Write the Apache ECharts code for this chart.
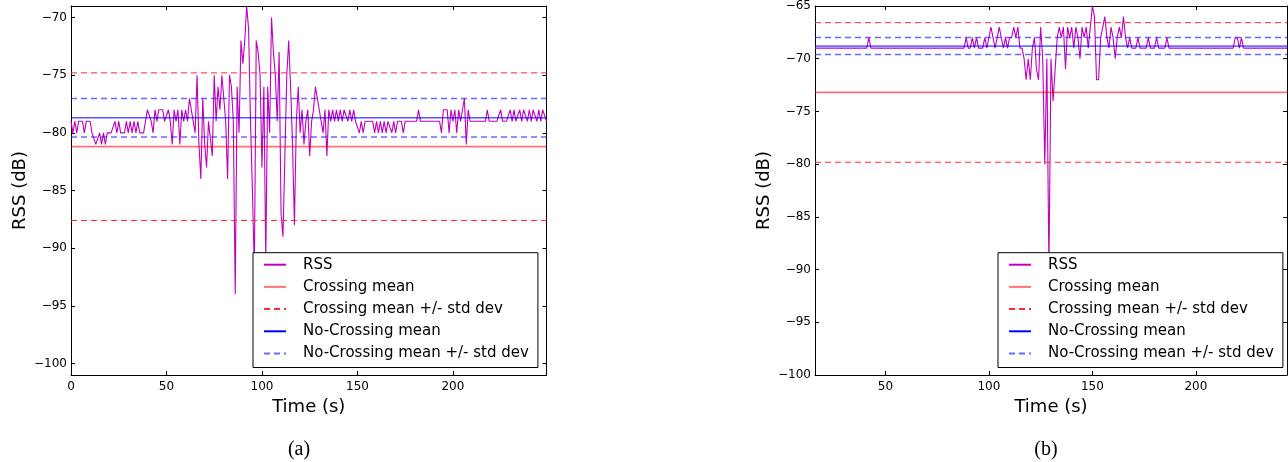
<!DOCTYPE html>
<html lang="en">
<head>
<meta charset="UTF-8">
<title>RSS crossing / no-crossing</title>
<style>html,body{margin:0;padding:0;background:#fff;}</style>
</head>
<body>
<div id="container" style="width:1288px;height:462px;"></div>
<script src="https://cdn.jsdelivr.net/npm/echarts@6/dist/echarts.min.js"></script>
<script>
// (a) RSS samples, one per second from t = 0
var leftStart = 0;
var leftRss = [
    -79,-80,-79,-80,-79,-79,-79,-80,-79,-79,
    -79,-80,-80,-81,-81,-80,-81,-80,-81,-80,
    -80,-80,-80,-79,-80,-79,-80,-80,-80,-79,
    -80,-79,-80,-79,-80,-79,-80,-80,-80,-80,
    -78,-78,-79,-80,-78,-79,-78,-78,-78,-79,
    -79,-78,-79,-81,-78,-79,-78,-81,-78,-79,
    -78,-79,-77,-78,-79,-80,-75,-81,-84,-77,
    -81,-83,-79,-79,-82,-75,-79,-76,-78,-75,
    -77,-79,-84,-75,-76,-79,-94,-76,-80,-72,
    -74,-72,-69,-71,-79,-85,-92,-72,-73,-75,
    -83,-76,-91,-76,-80,-70,-73,-75,-79,-73,
    -87,-89,-82,-75,-72,-76,-81,-88,-79,-76,
    -80,-78,-81,-79,-78,-82,-79,-78,-76,-77,
    -78,-79,-80,-78,-82,-78,-79,-78,-79,-78,
    -79,-78,-79,-78,-78,-79,-78,-79,-78,-79,
    -79,-80,-79,-80,-79,-79,-79,-79,-79,-80,
    -79,-80,-79,-80,-79,-80,-79,-79,-80,-79,
    -80,-79,-79,-79,-80,-79,-79,-79,-79,-79,
    -79,-79,-78,-79,-79,-79,-79,-79,-79,-79,
    -79,-79,-79,-79,-80,-78,-78,-78,-80,-78,
    -79,-78,-80,-78,-79,-78,-77,-81,-78,-79,
    -79,-79,-79,-79,-79,-79,-79,-79,-78,-79,
    -79,-79,-79,-79,-79,-78,-79,-79,-79,-79,
    -78,-79,-78,-79,-79,-78,-79,-78,-78,-79,
    -78,-79,-78,-78,-79,-78,-79,-78,-78,-79
];
// (b) RSS samples, one per second from t = 16
var rightStart = 16;
var rightRss = [
    -69,-69,-69,-69,-69,-69,-69,-69,-69,-69,
    -69,-69,-69,-69,-69,-69,-69,-69,-69,-69,
    -69,-69,-69,-69,-69,-69,-68,-69,-69,-69,
    -69,-69,-69,-69,-69,-69,-69,-69,-69,-69,
    -69,-69,-69,-69,-69,-69,-69,-69,-69,-69,
    -69,-69,-69,-69,-69,-69,-69,-69,-69,-69,
    -69,-69,-69,-69,-69,-69,-69,-69,-69,-69,
    -69,-69,-69,-68,-69,-69,-68,-69,-68,-69,
    -69,-69,-68,-69,-68,-67,-68,-69,-68,-67,
    -68,-69,-68,-69,-68,-68,-67,-68,-67,-69,
    -69,-70,-72,-70,-72,-69,-68,-71,-72,-67,
    -70,-80,-70,-90,-70,-74,-71,-68,-67,-68,
    -67,-71,-67,-68,-67,-69,-67,-68,-70,-67,
    -68,-67,-69,-67,-65,-66,-72,-72,-68,-67,
    -66,-68,-69,-67,-68,-70,-68,-67,-68,-66,
    -68,-69,-68,-69,-69,-69,-68,-69,-69,-69,
    -69,-68,-69,-69,-69,-68,-69,-69,-69,-69,
    -68,-69,-69,-69,-69,-69,-69,-69,-69,-69,
    -69,-69,-69,-69,-69,-69,-69,-69,-69,-69,
    -69,-69,-69,-69,-69,-69,-69,-69,-69,-69,
    -69,-69,-69,-68,-68,-69,-68,-69,-69,-69,
    -69,-69,-69,-69,-69,-69,-69,-69,-69,-69,
    -69,-69,-69,-69,-69,-69,-69,-69,-69
];

// [mean, std dev]
var leftCross = [-81.2, 6.4];
var leftNoCross = [-78.7, 1.67];
var rightCross = [-73.2, 6.62];
var rightNoCross = [-68.8, 0.81];

var leftXRange = [0, 249];
var leftYRange = [-101, -69];
var rightXRange = [16, 244];
var rightYRange = [-100, -65];
var leftXTicks = [0, 50, 100, 150, 200];
var leftYTicks = [-100, -95, -90, -85, -80, -75, -70];
var rightXTicks = [50, 100, 150, 200];
var rightYTicks = [-100, -95, -90, -85, -80, -75, -70, -65];

var legendNames = ['RSS', 'Crossing mean', 'Crossing mean +/- std dev', 'No-Crossing mean', 'No-Crossing mean +/- std dev'];

var FONT = "'DejaVu Sans', Verdana, sans-serif";

function fmt(v) {
    return String(v).replace('-', '\u2212');
}

function xAxes(grid, range, ticks) {
    var base = {
        type: 'value', gridIndex: grid, min: range[0], max: range[1],
        axisLine: {show: true, onZero: false, lineStyle: {color: '#000', width: 1}},
        axisTick: {show: true, inside: true, length: 4, customValues: ticks, lineStyle: {color: '#000'}},
        splitLine: {show: false}
    };
    var bottom = echarts.util.merge({
        position: 'bottom',
        axisLabel: {customValues: ticks, formatter: fmt, color: '#000', fontSize: 12, fontFamily: FONT, margin: 6},
        name: 'Time (s)', nameLocation: 'middle', nameGap: 20,
        nameTextStyle: {color: '#000', fontSize: 18, fontFamily: FONT}
    }, base, false);
    var top = echarts.util.merge({position: 'top', axisLabel: {show: false}}, base, false);
    return [bottom, top];
}

function yAxes(grid, range, ticks) {
    var base = {
        type: 'value', gridIndex: grid, min: range[0], max: range[1],
        axisLine: {show: true, onZero: false, lineStyle: {color: '#000', width: 1}},
        axisTick: {show: true, inside: true, length: 4, customValues: ticks, lineStyle: {color: '#000'}},
        splitLine: {show: false}
    };
    var left = echarts.util.merge({
        position: 'left',
        axisLabel: {customValues: ticks, formatter: fmt, color: '#000', fontSize: 12, fontFamily: FONT, margin: 4},
        name: 'RSS (dB)', nameLocation: 'middle', nameGap: 42, nameRotate: 90,
        nameTextStyle: {color: '#000', fontSize: 18, fontFamily: FONT}
    }, base, false);
    var right = echarts.util.merge({position: 'right', axisLabel: {show: false}}, base, false);
    return [left, right];
}

function hline(name, v, range, idx, style) {
    return {
        name: name, type: 'line', xAxisIndex: idx, yAxisIndex: idx,
        data: [[range[0], v], [range[1], v]],
        symbol: 'none', silent: true, z: 3,
        color: style.color,
        lineStyle: style
    };
}

function plotSeries(start, rss, range, cross, noCross, idx) {
    var pts = rss.map(function (v, i) { return [start + i, v]; });
    var dashRed = {color: '#ff2a2a', width: 1, type: [6, 4]};
    var dashBlue = {color: 'rgba(40,40,255,0.7)', width: 1.5, type: [6, 4]};
    return [
        {
            name: 'RSS', type: 'line', xAxisIndex: idx, yAxisIndex: idx,
            data: pts, symbol: 'none', showSymbol: false, z: 2,
            color: '#bf00bf',
            lineStyle: {color: '#bf00bf', width: 1.1}
        },
        hline('Crossing mean', cross[0], range, idx, {color: 'rgba(255,0,0,0.55)', width: 1.8}),
        hline('Crossing mean +/- std dev', cross[0] + cross[1], range, idx, dashRed),
        hline('Crossing mean +/- std dev', cross[0] - cross[1], range, idx, dashRed),
        hline('No-Crossing mean', noCross[0], range, idx, {color: '#0000ff', width: 1}),
        hline('No-Crossing mean +/- std dev', noCross[0] + noCross[1], range, idx, dashBlue),
        hline('No-Crossing mean +/- std dev', noCross[0] - noCross[1], range, idx, dashBlue)
    ];
}

function legendAt(left) {
    return {
        data: legendNames, orient: 'vertical', left: left, top: 252.7,
        itemWidth: 22, itemHeight: 16, itemGap: 6.2,
        padding: [4, 9, 6, 10],
        backgroundColor: '#fff', borderColor: '#000', borderWidth: 1, borderRadius: 0,
        selectedMode: false,
        itemStyle: {opacity: 0},
        textStyle: {color: '#000', fontSize: 15, fontFamily: FONT, lineHeight: 16, padding: [0, 0, 0, 12]}
    };
}

var option = {
    animation: false,
    backgroundColor: '#fff',
    grid: [
        {left: 71, top: 6, width: 475.5, height: 369},
        {left: 815, top: 6, width: 472, height: 369}
    ],
    xAxis: xAxes(0, leftXRange, leftXTicks).concat(xAxes(1, rightXRange, rightXTicks)),
    yAxis: yAxes(0, leftYRange, leftYTicks).concat(yAxes(1, rightYRange, rightYTicks)),
    legend: [legendAt(253), legendAt(998)],
    graphic: [
        {type: 'text', x: 299, y: 450, style: {text: '(a)', font: "20px 'Liberation Serif', 'DejaVu Serif', serif", align: 'center', verticalAlign: 'middle', fill: '#000'}},
        {type: 'text', x: 1046, y: 450, style: {text: '(b)', font: "20px 'Liberation Serif', 'DejaVu Serif', serif", align: 'center', verticalAlign: 'middle', fill: '#000'}}
    ],
    series: plotSeries(leftStart, leftRss, leftXRange, leftCross, leftNoCross, 0)
        .concat(plotSeries(rightStart, rightRss, rightXRange, rightCross, rightNoCross, 2))
};

var myChart = echarts.init(document.getElementById('container'));
myChart.setOption(option);
</script>
</body>
</html>
